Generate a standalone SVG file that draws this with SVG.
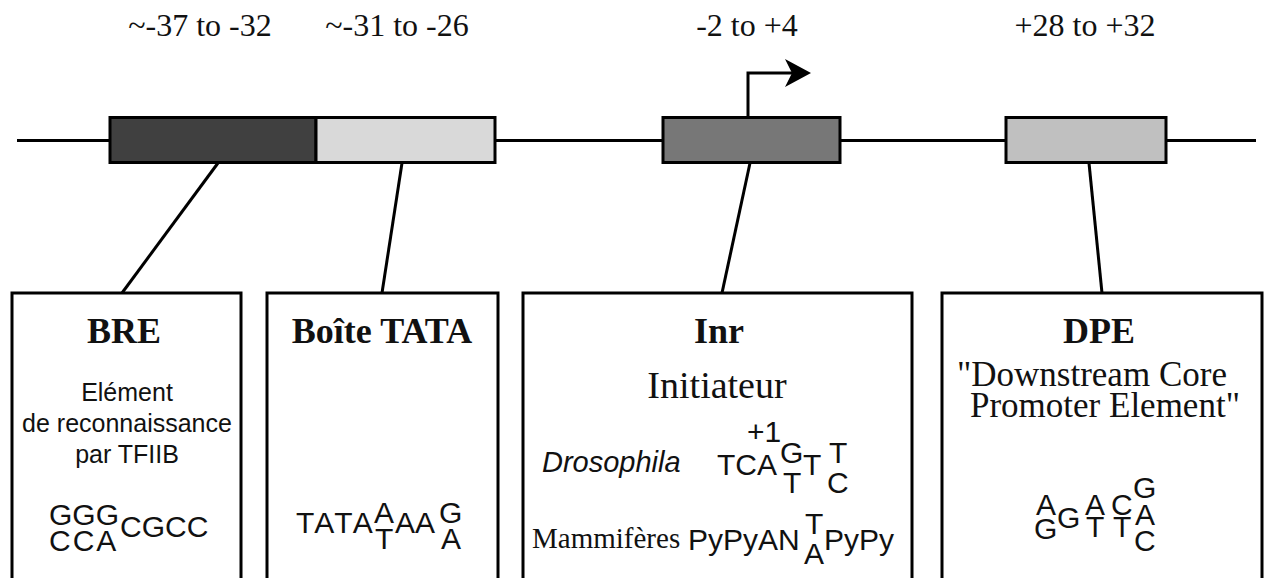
<svg xmlns="http://www.w3.org/2000/svg" width="1264" height="578" viewBox="0 0 1264 578">
<style>
.lbl{font-family:"Liberation Serif","Times New Roman",serif;font-size:32px;fill:#111;text-anchor:middle}
.head{font-family:"Liberation Serif","Times New Roman",serif;font-size:36px;font-weight:bold;fill:#111;text-anchor:middle}
.serif{font-family:"Liberation Serif","Times New Roman",serif;fill:#111}
.sans{font-family:"Liberation Sans",Arial,sans-serif;fill:#111}
.seq{font-family:"Liberation Sans",Arial,sans-serif;font-size:30px;fill:#111;font-kerning:none}
.mid{text-anchor:middle}
.elem{stroke:#000;stroke-width:3}
.box{fill:#fff;stroke:#000;stroke-width:3}
.conn{stroke:#000;stroke-width:3;fill:none}
</style>
<rect width="1264" height="578" fill="#fff"/>
<g id="labels">
<text class="lbl" x="200" y="36">~-37 to -32</text>
<text class="lbl" x="397" y="36">~-31 to -26</text>
<text class="lbl" x="747" y="36">-2 to +4</text>
<text class="lbl" x="1085" y="36">+28 to +32</text>
</g>
<g id="dna">
<line x1="17" y1="140.5" x2="1256" y2="140.5" stroke="#000" stroke-width="3"/>
<rect class="elem" x="110" y="117.5" width="206" height="45" fill="#404040"/>
<rect class="elem" x="316" y="117.5" width="179" height="45" fill="#d9d9d9"/>
<rect class="elem" x="663" y="117.5" width="177" height="45" fill="#777777"/>
<rect class="elem" x="1006" y="117.5" width="160" height="45" fill="#c0c0c0"/>
</g>
<g id="tss">
<path d="M748,117 V73 H792" class="conn"/>
<polygon points="785,59 811,73 785,87 792,73" fill="#000"/>
</g>
<g id="connectors">
<line class="conn" x1="218" y1="163" x2="122" y2="293"/>
<line class="conn" x1="402" y1="163" x2="382" y2="293"/>
<line class="conn" x1="750" y1="163" x2="722" y2="293"/>
<line class="conn" x1="1089" y1="163" x2="1102" y2="293"/>
</g>
<g id="bre">
<rect class="box" x="12" y="293" width="229" height="320"/>
<text class="head" x="124" y="343">BRE</text>
<text class="sans mid" x="127" y="401" font-size="25">Elément</text>
<text class="sans mid" x="127" y="432" font-size="25">de reconnaissance</text>
<text class="sans mid" x="127" y="463" font-size="25">par TFIIB</text>
<text class="seq"><tspan x="49" y="525">GGG</tspan><tspan x="49" y="551" letter-spacing="2">CCA</tspan><tspan x="120" y="537">CGCC</tspan></text>
</g>
<g id="tata">
<rect class="box" x="267" y="293" width="231" height="320"/>
<text class="head" x="382" y="343">Boîte TATA</text>
<text class="seq"><tspan x="296" y="533">TATA</tspan><tspan x="374" y="523">A</tspan><tspan x="375" y="549">T</tspan><tspan x="395" y="533">AA</tspan><tspan x="439" y="523">G</tspan><tspan x="441" y="549">A</tspan></text>
</g>
<g id="inr">
<rect class="box" x="523" y="293" width="389" height="320"/>
<text class="head" x="719" y="343">Inr</text>
<text class="serif mid" x="717" y="398" font-size="38">Initiateur</text>
<text class="sans" x="542" y="472" font-size="29" font-style="italic">Drosophila</text>
<text class="seq" font-size="26" x="747" y="442">+1</text>
<text class="seq"><tspan x="717" y="475">TCA</tspan><tspan x="780" y="463">G</tspan><tspan x="783" y="493">T</tspan><tspan x="803" y="475">T</tspan><tspan x="829" y="463">T</tspan><tspan x="827" y="493">C</tspan></text>
<text class="serif" x="532" y="548" font-size="29">Mammifères</text>
<text class="seq"><tspan x="688" y="550">PyPyAN</tspan><tspan x="805" y="534">T</tspan><tspan x="804" y="564">A</tspan><tspan x="824" y="550">PyPy</tspan></text>
</g>
<g id="dpe">
<rect class="box" x="942" y="293" width="320" height="320"/>
<text class="head" x="1099" y="343">DPE</text>
<text class="serif" x="957" y="386" font-size="35">"Downstream Core</text>
<text class="serif" x="970" y="417" font-size="35">Promoter Element"</text>
<text class="seq"><tspan x="1036" y="515">A</tspan><tspan x="1034" y="539">G</tspan><tspan x="1057" y="528">G</tspan><tspan x="1085" y="515">A</tspan><tspan x="1086" y="537">T</tspan><tspan x="1111" y="515">C</tspan><tspan x="1113" y="537">T</tspan><tspan x="1133" y="498">G</tspan><tspan x="1135" y="525">A</tspan><tspan x="1134" y="551">C</tspan></text>
</g>
</svg>
